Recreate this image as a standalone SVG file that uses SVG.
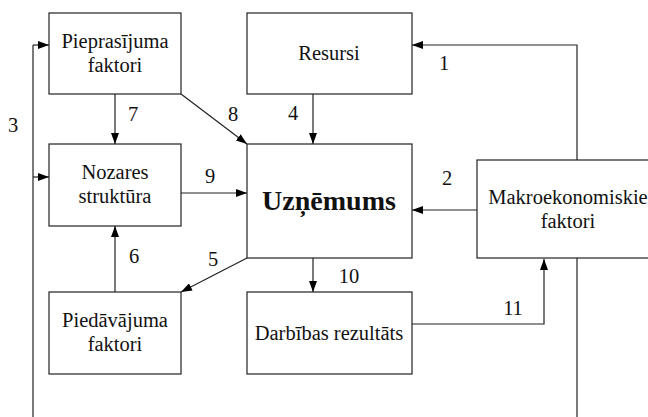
<svg xmlns="http://www.w3.org/2000/svg" width="648" height="417" viewBox="0 0 648 417">
<style>
.box{fill:#fff;stroke:#222;stroke-width:1.2}
text{font-family:'Liberation Serif','Times New Roman','DejaVu Serif',serif;font-size:20.5px;fill:#111;text-anchor:middle}
.b{font-weight:bold;font-size:28px}
.c{fill:none;stroke:#222;stroke-width:1.2}
.a{marker-end:url(#ah)}
</style>
<defs>
<marker id="ah" markerUnits="userSpaceOnUse" markerWidth="11" markerHeight="8" refX="11" refY="4" orient="auto">
<path d="M0,0 L11,4 L0,8 z" fill="#000"/>
</marker>
</defs>
<rect width="648" height="417" fill="#fff"/>
<g id="connectors">
<path class="c" d="M33,417 V45"/>
<path class="c a" d="M33,45 H49"/>
<path class="c a" d="M33,177 H49"/>
<path class="c a" d="M577,160 V45 H412"/>
<path class="c" d="M577,258 V417"/>
<path class="c a" d="M477,210 H412"/>
<path class="c a" d="M115,94 V144"/>
<path class="c a" d="M181,94 L247,144"/>
<path class="c a" d="M313,94 V144"/>
<path class="c a" d="M181,193 H247"/>
<path class="c a" d="M115,292 V226"/>
<path class="c a" d="M247,258 L181,292"/>
<path class="c a" d="M313,258 V292"/>
<path class="c a" d="M412,324 H544 V259"/>
<text x="444" y="70" font-family="Liberation Serif, serif">1</text>
<text x="447" y="185" font-family="Liberation Serif, serif">2</text>
<text x="13" y="132" font-family="Liberation Serif, serif">3</text>
<text x="293" y="120" font-family="Liberation Serif, serif">4</text>
<text x="213" y="266" font-family="Liberation Serif, serif">5</text>
<text x="134" y="263" font-family="Liberation Serif, serif">6</text>
<text x="133" y="121" font-family="Liberation Serif, serif">7</text>
<text x="233" y="121" font-family="Liberation Serif, serif">8</text>
<text x="210" y="183" font-family="Liberation Serif, serif">9</text>
<text x="349" y="283" font-family="Liberation Serif, serif">10</text>
<text x="513" y="315" font-family="Liberation Serif, serif">11</text>
</g>
<g id="pieprasijuma">
<rect class="box" x="49" y="13" width="132" height="81"/>
<text x="115" y="48" font-family="Liberation Serif, serif">Pieprasījuma</text>
<text x="115" y="72" font-family="Liberation Serif, serif">faktori</text>
</g>
<g id="resursi">
<rect class="box" x="247" y="13" width="165" height="81"/>
<text x="329" y="60" font-family="Liberation Serif, serif">Resursi</text>
</g>
<g id="nozares">
<rect class="box" x="49" y="144" width="132" height="82"/>
<text x="115" y="179" font-family="Liberation Serif, serif">Nozares</text>
<text x="115" y="203" font-family="Liberation Serif, serif">struktūra</text>
</g>
<g id="uznemums">
<rect class="box" x="247" y="144" width="165" height="114"/>
<text class="b" x="329" y="210" font-family="Liberation Serif, serif">Uzņēmums</text>
</g>
<g id="makro">
<rect class="box" x="477" y="160" width="182" height="98"/>
<text x="568" y="204" font-family="Liberation Serif, serif">Makroekonomiskie</text>
<text x="568" y="228" font-family="Liberation Serif, serif">faktori</text>
</g>
<g id="piedavajuma">
<rect class="box" x="49" y="292" width="132" height="82"/>
<text x="115" y="327" font-family="Liberation Serif, serif">Piedāvājuma</text>
<text x="115" y="351" font-family="Liberation Serif, serif">faktori</text>
</g>
<g id="darbibas">
<rect class="box" x="247" y="292" width="165" height="82"/>
<text x="329" y="340" font-family="Liberation Serif, serif">Darbības rezultāts</text>
</g>
</svg>
